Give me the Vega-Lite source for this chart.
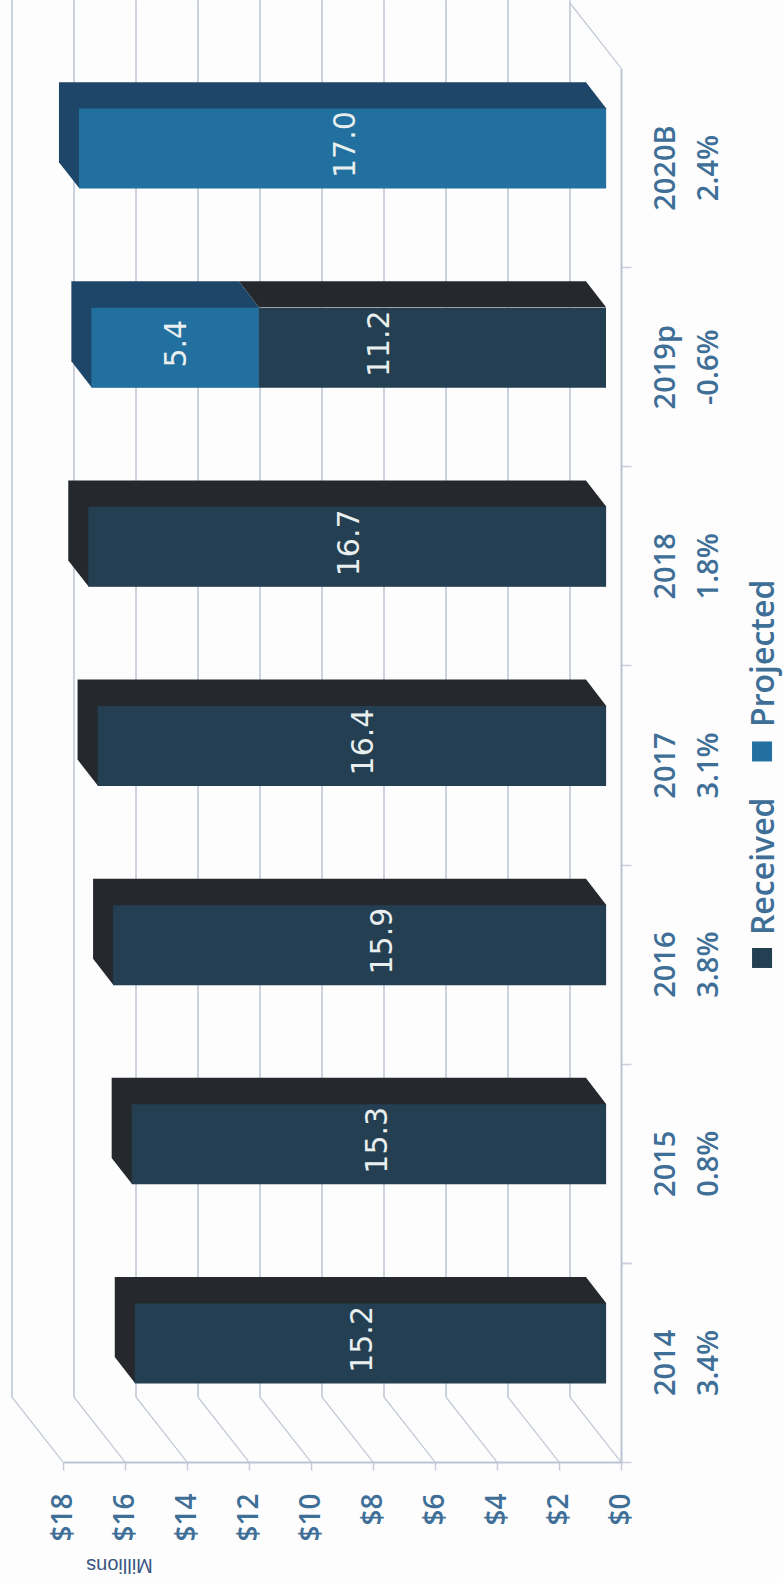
{
"$schema":"https://vega.github.io/schema/vega-lite/v6.json",
"width":621,"height":1462,"autosize":{"type":"none"},
"padding":{"left":0,"top":0,"right":162,"bottom":121},
"background":"#fdfdfe",
"config":{"view":{"stroke":null}},
"datasets":{
"bars":[
{"year":"2014","growth":"3.4%","series":"Received","rank":1,"value":15.2,"labelAt":7.84},
{"year":"2015","growth":"0.8%","series":"Received","rank":1,"value":15.3,"labelAt":7.35},
{"year":"2016","growth":"3.8%","series":"Received","rank":1,"value":15.9,"labelAt":7.2},
{"year":"2017","growth":"3.1%","series":"Received","rank":1,"value":16.4,"labelAt":7.8},
{"year":"2018","growth":"1.8%","series":"Received","rank":1,"value":16.7,"labelAt":8.25},
{"year":"2019p","growth":"-0.6%","series":"Received","rank":1,"value":11.2,"labelAt":7.3},
{"year":"2019p","growth":"-0.6%","series":"Projected","rank":2,"value":5.4,"labelAt":13.85},
{"year":"2020B","growth":"2.4%","series":"Projected","rank":2,"value":17.0,"labelAt":8.39}
],
"ticks":[
{"tick":0,"back":1.645},{"tick":2,"back":3.645},{"tick":4,"back":5.645},{"tick":6,"back":7.645},{"tick":8,"back":9.645},{"tick":10,"back":11.645},{"tick":12,"back":13.645},{"tick":14,"back":15.645},{"tick":16,"back":17.645},{"tick":18,"back":19.645}
],
"faces":[
{"year":"2014","series":"Received","pos":0.929,"from":16.33,"to":1.13},
{"year":"2014","series":"Received","pos":0.798,"from":16.33,"to":0.48},
{"year":"2014","series":"Received","pos":0.527,"from":16.33,"to":0.48},
{"year":"2014","series":"Received","pos":0.397,"from":15.68,"to":0.48},
{"year":"2015","series":"Received","pos":1.929,"from":16.43,"to":1.13},
{"year":"2015","series":"Received","pos":1.798,"from":16.43,"to":0.48},
{"year":"2015","series":"Received","pos":1.527,"from":16.43,"to":0.48},
{"year":"2015","series":"Received","pos":1.397,"from":15.78,"to":0.48},
{"year":"2016","series":"Received","pos":2.929,"from":17.03,"to":1.13},
{"year":"2016","series":"Received","pos":2.798,"from":17.03,"to":0.48},
{"year":"2016","series":"Received","pos":2.527,"from":17.03,"to":0.48},
{"year":"2016","series":"Received","pos":2.397,"from":16.38,"to":0.48},
{"year":"2017","series":"Received","pos":3.929,"from":17.53,"to":1.13},
{"year":"2017","series":"Received","pos":3.798,"from":17.53,"to":0.48},
{"year":"2017","series":"Received","pos":3.527,"from":17.53,"to":0.48},
{"year":"2017","series":"Received","pos":3.397,"from":16.88,"to":0.48},
{"year":"2018","series":"Received","pos":4.929,"from":17.83,"to":1.13},
{"year":"2018","series":"Received","pos":4.798,"from":17.83,"to":0.48},
{"year":"2018","series":"Received","pos":4.527,"from":17.83,"to":0.48},
{"year":"2018","series":"Received","pos":4.397,"from":17.18,"to":0.48},
{"year":"2019p","series":"Received","pos":5.929,"from":12.33,"to":1.13},
{"year":"2019p","series":"Received","pos":5.798,"from":11.68,"to":0.48},
{"year":"2019p","series":"Projected","pos":5.929,"from":17.73,"to":12.33},
{"year":"2019p","series":"Projected","pos":5.798,"from":17.73,"to":11.68},
{"year":"2019p","series":"Projected","pos":5.527,"from":17.73,"to":11.68},
{"year":"2019p","series":"Projected","pos":5.397,"from":17.08,"to":11.68},
{"year":"2020B","series":"Projected","pos":6.929,"from":18.13,"to":1.13},
{"year":"2020B","series":"Projected","pos":6.798,"from":18.13,"to":0.48},
{"year":"2020B","series":"Projected","pos":6.527,"from":18.13,"to":0.48},
{"year":"2020B","series":"Projected","pos":6.397,"from":17.48,"to":0.48}
],
"legend":[
{"series":"Received","keyAt":-4.55,"keyPos":2.531,"textPos":2.646},
{"series":"Projected","keyAt":-4.55,"keyPos":3.568,"textPos":3.691}
]
},
"resolve":{"scale":{"y":"independent"}},
"layer":[
{"data":{"name":"ticks"},"mark":{"type":"rule","color":"#bcc3d2","strokeWidth":1.5},
 "encoding":{
  "x":{"field":"back","type":"quantitative","scale":{"domain":[0,18],"range":[621,63]},
   "axis":{"title":"Millions","titleAngle":180,"titleFont":"Liberation Sans","titleFontSize":20,"titleFontWeight":"normal","titleColor":"#3a5580","titleX":119,"titleY":102,"titleAlign":"center","titleBaseline":"middle",
    "values":[0,2,4,6,8,10,12,14,16,18],"labelExpr":"'$'+datum.value","labelAngle":-90,"labelAlign":"right","labelBaseline":"middle","labelFont":"Open Sans","labelFontSize":28,"labelFontWeight":600,"labelColor":"#3f6f97","labelPadding":23,"labelOverlap":false,"labelFlush":false,"tickColor":"#c9ced9","tickSize":8,"tickWidth":1.5,"domainColor":"#bcc3d2","domainWidth":2,"grid":false}},
  "y":{"datum":0.326,"type":"quantitative","scale":{"domain":[0,7],"range":[1462,68]},"axis":null},
  "y2":{"datum":7.34}}},
{"data":{"name":"ticks"},"mark":{"type":"rule","color":"#bcc3d2","strokeWidth":1.2},
 "encoding":{
  "x":{"field":"tick","type":"quantitative"},
  "x2":{"field":"back"},
  "y":{"datum":0,"type":"quantitative","scale":{"domain":[0,7],"range":[1462,68]},"axis":null},
  "y2":{"datum":0.326}}},
{"data":{"values":[{"tick":0,"back":1.645}]},"mark":{"type":"rule","color":"#bcc3d2","strokeWidth":1.2},
 "encoding":{
  "x":{"field":"tick","type":"quantitative"},
  "x2":{"field":"back"},
  "y":{"datum":7,"type":"quantitative","scale":{"domain":[0,7],"range":[1462,68]},"axis":null},
  "y2":{"datum":7.326}}},
{"data":{"name":"faces"},"transform":[{"filter":"datum.series==='Received'"}],"mark":{"type":"area","orient":"horizontal","color":"#25292d"},
 "encoding":{
  "x":{"field":"from","type":"quantitative"},"x2":{"field":"to"},
  "y":{"field":"pos","type":"quantitative","scale":{"domain":[0,7],"range":[1462,68]},"axis":null},
  "detail":{"field":"year"}}},
{"data":{"name":"faces"},"transform":[{"filter":"datum.series==='Projected'"}],"mark":{"type":"area","orient":"horizontal","color":"#1d4669"},
 "encoding":{
  "x":{"field":"from","type":"quantitative"},"x2":{"field":"to"},
  "y":{"field":"pos","type":"quantitative","scale":{"domain":[0,7],"range":[1462,68]},"axis":null},
  "detail":{"field":"year"}}},
{"data":{"name":"bars"},"mark":{"type":"bar","height":80,"xOffset":-15,"yOffset":-19},
 "encoding":{
  "x":{"field":"value","type":"quantitative","stack":"zero"},
  "y":{"field":"year","type":"nominal","sort":null,"scale":{"domain":["2014","2015","2016","2017","2018","2019p","2020B"],"range":[1462,68],"paddingInner":0,"paddingOuter":0},
   "axis":{"orient":"right","title":null,"tickBand":"extent","labelAngle":-90,"labelAlign":"center","labelBaseline":"top","labelFont":"Open Sans","labelFontSize":29,"labelFontWeight":600,"labelColor":"#3f6f97","labelPadding":20,"labelLineHeight":43,"labelOverlap":false,
    "labelExpr":"{'2014':['2014','3.4%'],'2015':['2015','0.8%'],'2016':['2016','3.8%'],'2017':['2017','3.1%'],'2018':['2018','1.8%'],'2019p':['2019p','-0.6%'],'2020B':['2020B','2.4%']}[datum.label]",
    "tickColor":"#c9ced9","tickSize":10,"tickWidth":1.5,"domainColor":"#bcc3d2","domainWidth":2,"grid":false}},
  "order":{"field":"rank"},
  "color":{"field":"series","type":"nominal","scale":{"domain":["Received","Projected"],"range":["#233f51","#22709f"]},"legend":null}}},
{"data":{"name":"bars"},"mark":{"type":"text","angle":270,"align":"center","baseline":"middle","font":"DejaVu Sans","fontSize":30,"color":"#e9eeee","xOffset":-15,"yOffset":-23},
 "encoding":{
  "x":{"field":"labelAt","type":"quantitative"},
  "y":{"field":"year","type":"nominal","sort":null,"scale":{"domain":["2014","2015","2016","2017","2018","2019p","2020B"],"range":[1462,68],"paddingInner":0,"paddingOuter":0},"axis":null},
  "text":{"field":"value","type":"quantitative","format":".1f"}}},
{"data":{"name":"legend"},"mark":{"type":"point","shape":"square","filled":true,"size":400,"opacity":1},
 "encoding":{
  "x":{"field":"keyAt","type":"quantitative"},
  "y":{"field":"keyPos","type":"quantitative","scale":{"domain":[0,7],"range":[1462,68]},"axis":null},
  "color":{"field":"series","type":"nominal","legend":null}}},
{"data":{"name":"legend"},"mark":{"type":"text","angle":270,"align":"left","baseline":"middle","font":"Open Sans","fontSize":32,"fontWeight":600,"color":"#3f6f97","xOffset":2},
 "encoding":{
  "x":{"field":"keyAt","type":"quantitative"},
  "y":{"field":"textPos","type":"quantitative","scale":{"domain":[0,7],"range":[1462,68]},"axis":null},
  "text":{"field":"series","type":"nominal"}}}
]
}
